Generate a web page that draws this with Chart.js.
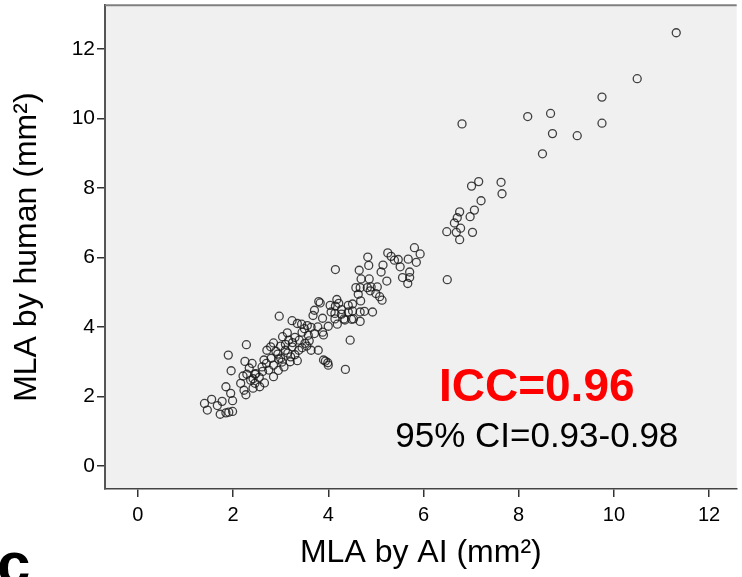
<!DOCTYPE html>
<html>
<head>
<meta charset="utf-8">
<script src="https://cdn.jsdelivr.net/npm/chart.js@4.4.1/dist/chart.umd.min.js"></script>
<style>
  html, body { margin: 0; padding: 0; background: #ffffff; }
  #wrap { width: 742px; height: 577px; position: relative; }
  canvas { display: block; }
</style>
</head>
<body>
<div id="wrap"><canvas id="c" width="742" height="577"></canvas></div>
<script>
// MLA measured by AI (x) and by human (y), mm^2
const aiMLA = [
  11.31, 10.49, 9.75, 8.67, 8.19, 8.71, 9.23, 9.75, 8.50, 6.81,
  7.16, 7.01, 7.63, 7.65, 7.21, 7.07, 6.98, 6.76, 6.71, 6.65,
  6.78, 6.69, 6.49, 6.76, 7.03, 6.50,
  5.25, 5.32, 5.47, 5.39, 5.15, 5.11, 5.51, 5.68, 5.81, 5.93,
  5.85, 5.71, 5.56, 5.71, 5.67, 5.23,
  4.83, 4.85, 4.65, 4.15, 4.69, 4.86, 4.58, 4.67, 4.82, 4.90,
  5.03, 4.88, 5.00, 5.08, 5.13, 4.63, 4.68, 4.18, 4.15, 4.04,
  4.42, 4.28, 4.06, 4.51, 4.67, 4.76, 4.93, 4.33, 4.49, 4.67,
  4.14, 4.19, 3.80, 2.97,
  2.28, 2.25, 2.40, 2.29, 2.46, 2.71, 2.79, 2.85, 2.65, 2.61,
  2.75, 2.85, 2.94, 2.96, 3.07, 3.14, 3.04, 3.17, 3.24, 3.35,
  3.44, 3.56, 3.64, 3.78, 3.71, 3.88, 4.00, 3.58, 3.39, 3.51,
  3.38, 3.24, 3.10, 3.21, 3.35, 3.03, 3.64, 3.79, 3.90, 3.99,
  4.36, 4.46, 3.71, 3.83, 3.68, 3.88, 4.22, 4.14, 4.28, 4.42,
  4.35, 4.53, 4.51, 2.42, 2.21,
  1.96, 1.85, 1.40, 1.55, 1.67, 1.77, 1.46, 1.73, 1.85, 1.91,
  1.99, 1.95, 1.99, 2.16, 2.23, 2.27, 2.37, 2.46, 2.42, 2.34,
  2.48, 2.66, 2.56, 1.90,
  2.55, 2.62, 2.70, 2.80, 2.90, 3.00, 3.10, 3.15, 3.25, 3.30,
  3.45, 3.50, 3.60, 3.30, 3.00, 2.85, 2.95, 3.20, 3.45, 3.55,
  3.90, 3.94, 4.00
];
const humanMLA = [
  12.46, 11.14, 10.61, 10.14, 10.05, 9.56, 9.50, 9.86, 8.98, 9.84,
  8.18, 8.05, 8.16, 7.83, 7.63, 7.36, 7.17, 7.31, 7.14, 6.99,
  6.84, 6.72, 6.74, 6.51, 6.72, 5.36,
  6.13, 6.03, 5.94, 5.92, 5.78, 5.58, 5.73, 5.95, 6.28, 6.10,
  5.86, 5.58, 5.42, 5.42, 5.25, 5.32,
  6.01, 5.77, 5.63, 5.65, 5.38, 5.38, 5.13, 5.13, 5.13, 5.15,
  5.15, 5.04, 4.96, 4.87, 4.77, 4.94, 4.75, 4.79, 4.60, 4.62,
  4.62, 4.50, 4.43, 4.46, 4.43, 4.45, 4.43, 4.23, 4.22, 4.16,
  4.23, 4.08, 4.73, 4.31,
  3.49, 3.01, 2.95, 2.64, 2.64, 3.33, 3.43, 3.54, 3.05, 2.85,
  2.76, 2.57, 3.22, 3.07, 2.85, 3.83, 3.72, 3.62, 4.18, 4.10,
  4.08, 4.04, 3.99, 4.00, 3.81, 3.85, 4.02, 3.76, 3.62, 3.53,
  3.33, 3.43, 3.33, 3.14, 3.03, 2.99, 3.33, 3.33, 3.05, 2.97,
  2.78, 3.62, 4.48, 4.69, 4.33, 4.25, 4.68, 4.39, 4.37, 4.43,
  4.20, 4.23, 4.66, 2.51, 2.59,
  2.74, 2.28, 1.80, 1.92, 1.74, 1.86, 1.61, 1.49, 1.53, 1.55,
  1.57, 2.09, 1.88, 2.38, 2.18, 2.05, 2.47, 2.38, 2.24, 2.82,
  2.66, 2.39, 2.28, 3.19,
  2.55, 2.72, 2.95, 3.10, 3.30, 3.45, 3.50, 3.25, 3.55, 3.70,
  3.85, 3.95, 3.60, 3.20, 3.10, 2.90, 2.75, 3.00, 3.40, 3.45,
  3.77, 3.02, 2.90
];
const axisTicks = [0, 2, 4, 6, 8, 10, 12];
const xTitle = 'MLA by AI (mm²)';
const yTitle = 'MLA by human (mm²)';
const iccLabel = 'ICC=0.96';
const ciLabel = '95% CI=0.93-0.98';

const points = aiMLA.map((x, i) => ({ x: x, y: humanMLA[i] }));

const FONT = "'Liberation Sans', Arial, sans-serif";

const decor = {
  id: 'decor',
  beforeDraw(chart) {
    const { ctx, chartArea: a } = chart;
    ctx.save();
    ctx.fillStyle = '#f0f0f0';
    ctx.fillRect(a.left, a.top, a.right - a.left, a.bottom - a.top);
    ctx.restore();
  },
  afterDraw(chart) {
    const { ctx, chartArea: a } = chart;
    ctx.save();
    // top frame line
    ctx.strokeStyle = '#808080';
    ctx.lineWidth = 2;
    ctx.beginPath();
    ctx.moveTo(a.left, a.top);
    ctx.lineTo(a.right, a.top);
    ctx.stroke();
    // annotation texts
    const xs = chart.scales.x, ys = chart.scales.y;
    ctx.textAlign = 'center';
    ctx.textBaseline = 'middle';
    ctx.fillStyle = '#ff0000';
    ctx.font = "bold 46px " + FONT;
    ctx.fillText(iccLabel, xs.getPixelForValue(8.38), ys.getPixelForValue(2.24));
    ctx.fillStyle = '#000000';
    ctx.font = "35px " + FONT;
    ctx.fillText(ciLabel, xs.getPixelForValue(8.38), ys.getPixelForValue(0.83));
    // panel letter cut at bottom-left
    ctx.font = "bold 60px " + FONT;
    ctx.textAlign = 'left';
    ctx.textBaseline = 'alphabetic';
    ctx.fillText('c', -3, 584);
    ctx.restore();
  }
};

new Chart(document.getElementById('c'), {
  type: 'scatter',
  data: {
    datasets: [{
      data: points,
      pointRadius: 4,
      pointHoverRadius: 4,
      pointBorderWidth: 1.3,
      pointBorderColor: 'rgba(20,20,20,0.8)',
      pointBackgroundColor: 'rgba(0,0,0,0)'
    }]
  },
  plugins: [decor],
  options: {
    responsive: false,
    animation: false,
    devicePixelRatio: 1,
    layout: { padding: { top: 5, right: 0, left: 0, bottom: 0 } },
    plugins: { legend: { display: false }, tooltip: { enabled: false } },
    scales: {
      x: {
        type: 'linear',
        min: -0.69,
        max: 12.58,
        afterBuildTicks: s => { s.ticks = axisTicks.map(v => ({ value: v })); },
        afterFit: s => { s.height = 88; s.paddingLeft = 0; s.paddingRight = 0; },
        grid: { display: true, drawOnChartArea: false, drawTicks: true, tickLength: 8, color: '#333', lineWidth: 1.5 },
        border: { display: true, color: '#444', width: 1.5 },
        ticks: { color: '#000', font: { family: FONT, size: 20 }, padding: 6, maxRotation: 0 },
        title: { display: true, text: xTitle, color: '#000', font: { family: FONT, size: 32 }, padding: { top: 0, bottom: 5 } }
      },
      y: {
        type: 'linear',
        min: -0.66,
        max: 13.25,
        afterBuildTicks: s => { s.ticks = axisTicks.map(v => ({ value: v })); },
        afterFit: s => { s.width = 105; s.paddingTop = 0; s.paddingBottom = 0; },
        grid: { display: true, drawOnChartArea: false, drawTicks: true, tickLength: 8, color: '#333', lineWidth: 1.5 },
        border: { display: true, color: '#555', width: 2 },
        ticks: { color: '#000', font: { family: FONT, size: 21 }, padding: 2 },
        title: { display: true, text: yTitle, color: '#000', font: { family: FONT, size: 32 }, padding: { top: 8, bottom: 0 } }
      }
    }
  }
});
</script>
</body>
</html>
